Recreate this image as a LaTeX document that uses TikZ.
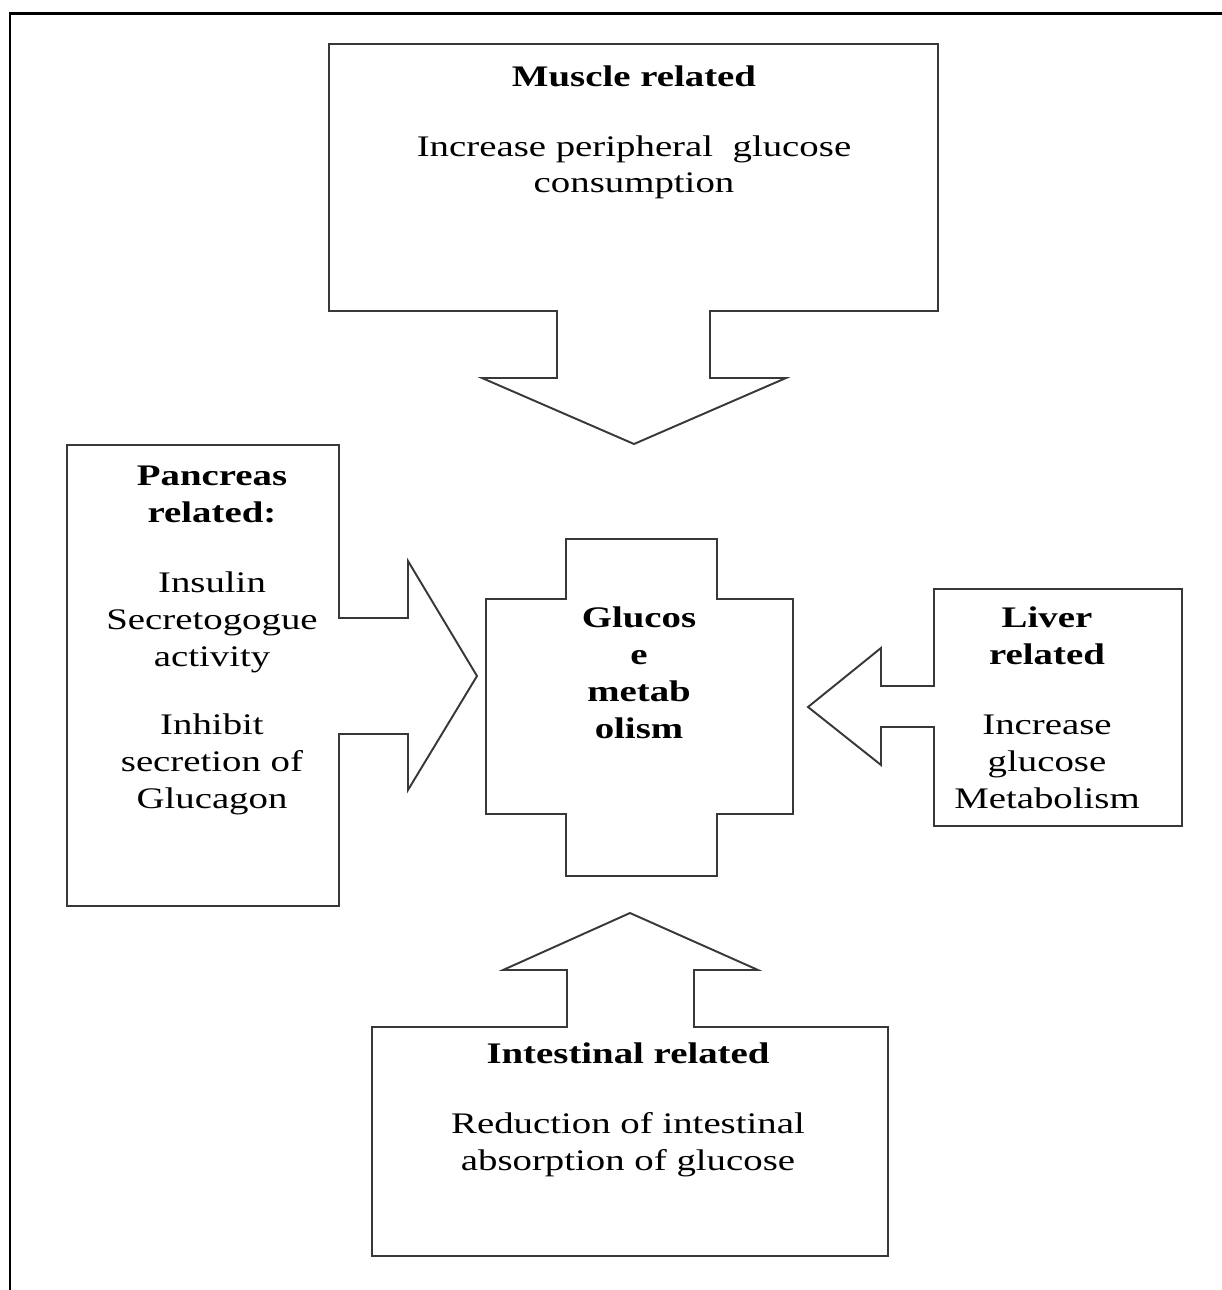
\documentclass[tikz,border=0pt]{standalone}
\usepackage{fontspec}
\setmainfont{Liberation Serif}[FakeStretch=1.3]
\begin{document}
\begin{tikzpicture}[x=0.02cm,y=-0.02cm,
  blockarrow/.style={draw=black!78,line width=1.1pt,line join=miter,fill=white},
  txt/.style={align=center,inner sep=0pt,anchor=base,font=\fontsize{17pt}{21pt}\selectfont}]
\useasboundingbox (0,0) rectangle (1222,1290);
% outer frame
\draw[line width=1.7pt] (10,1290) -- (10,14) -- (1222,14);
% muscle
\draw[blockarrow] (329,44) -- (938,44) -- (938,311) -- (710,311) -- (710,378) -- (786,378)
  -- (634,444) -- (482,378) -- (557,378) -- (557,311) -- (329,311) -- cycle;
% pancreas
\draw[blockarrow] (67,445) -- (339,445) -- (339,618) -- (408,618) -- (408,561) -- (477,676)
  -- (408,790) -- (408,734) -- (339,734) -- (339,906) -- (67,906) -- cycle;
% centre
\draw[blockarrow] (566,539) -- (717,539) -- (717,599) -- (793,599) -- (793,814) -- (717,814)
  -- (717,876) -- (566,876) -- (566,814) -- (486,814) -- (486,599) -- (566,599) -- cycle;
% liver
\draw[blockarrow] (934,589) -- (1182,589) -- (1182,826) -- (934,826) -- (934,727) -- (881,727)
  -- (881,765) -- (808,707) -- (881,648) -- (881,686) -- (934,686) -- cycle;
% intestinal
\draw[blockarrow] (372,1027) -- (567,1027) -- (567,970) -- (503,970) -- (630,913) -- (758,970)
  -- (694,970) -- (694,1027) -- (888,1027) -- (888,1256) -- (372,1256) -- cycle;
% texts (anchored at the baseline of the last line)
\node[txt] (muscle) at (634,193) {\textbf{Muscle related}\\[0.66cm]Increase peripheral\ \ glucose\\consumption};
\node[txt] (pancreas) at (212,808) {\textbf{Pancreas}\\\textbf{related:}\\[0.66cm]Insulin\\Secretogogue\\activity\\[0.62cm]Inhibit\\secretion of\\Glucagon};
\node[txt] (glucose) at (639,738) {\textbf{Glucos}\\\textbf{e}\\\textbf{metab}\\\textbf{olism}};
\node[txt] (liver) at (1047,808) {\textbf{Liver}\\\textbf{related}\\[0.66cm]Increase\\glucose\\Metabolism};
\node[txt] (intestinal) at (628,1170) {\textbf{Intestinal related}\\[0.66cm]Reduction of intestinal\\absorption of glucose};
\end{tikzpicture}
\end{document}
